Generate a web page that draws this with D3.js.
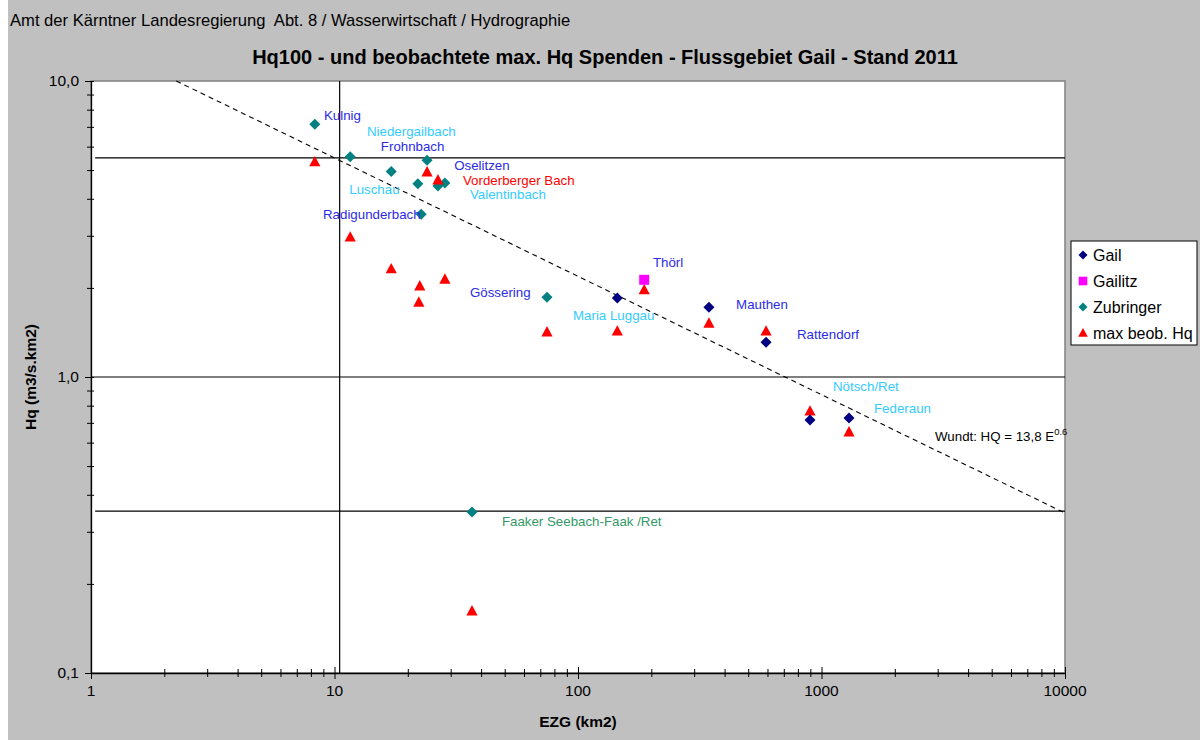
<!DOCTYPE html>
<html><head><meta charset="utf-8">
<script src="https://cdn.jsdelivr.net/npm/d3@7"></script>
<style>
body{margin:0;background:#fff}
svg{display:block}
text{font-family:"Liberation Sans",Arial,Helvetica,sans-serif;white-space:pre}
</style>
</head><body>
<svg id="chart" width="1200" height="740"></svg>
<script>
// ---------------- data ----------------
const headerText = "Amt der Kärntner Landesregierung  Abt. 8 / Wasserwirtschaft / Hydrographie";
const titleText = "Hq100 - und beobachtete max. Hq Spenden - Flussgebiet Gail - Stand 2011";
const xTitle = "EZG (km2)";
const yTitle = "Hq (m3/s.km2)";
const xTickValues = [1, 10, 100, 1000, 10000];
const xTickLabels = ["1", "10", "100", "1000", "10000"];
const yTickValues = [0.1, 1, 10];
const yTickLabels = ["0,1", "1,0", "10,0"];
const seriesNames = ["Gail", "Gailitz", "Zubringer", "max beob. Hq"];

// Gail (main river gauges)
const gailEZG = [145, 345, 592, 897, 1297];
const gailHq  = [1.85, 1.72, 1.31, 0.716, 0.727];
// Gailitz
const gailitzEZG = [187];
const gailitzHq  = [2.13];
// Zubringer (tributaries)
const zubEZG = [8.3, 11.6, 17.1, 24.0, 22.0, 26.6, 28.4, 22.7, 74.6, 36.7];
const zubHq  = [7.15, 5.55, 4.95, 5.4, 4.5, 4.42, 4.52, 3.55, 1.86, 0.35];
// max. beobachtete Hq
const maxEZG = [8.3, 11.6, 17.1, 24.0, 26.6, 22.4, 22.2, 28.4, 74.6, 145, 187, 345, 592, 897, 1297, 36.7];
const maxHq  = [5.33, 2.97, 2.32, 4.93, 4.63, 2.03, 1.79, 2.14, 1.42, 1.43, 1.97, 1.52, 1.43, 0.767, 0.652, 0.162];

// reference lines
const lineTopEZG = [1.04, 10000], lineTopHq = [5.5, 5.5];
const lineBotEZG = [1.04, 10000], lineBotHq = [0.352, 0.352];
const lineVertEZG = [10.5, 10.5], lineVertHq = [0.1, 10];
// Wundt: HQ = 13,8 E^0.6  -> Spende q = 13,8 E^-0.4 (endpoints)
const wundtEZG = [2.24, 10000], wundtHq = [10, 0.347];

// point labels (anchor = left/baseline in data units)
const labelText = ["Kulnig","Niedergailbach","Frohnbach","Oselitzen","Vorderberger Bach","Valentinbach","Luschau","Radigunderbach","Gössering","Maria Luggau","Thörl","Mauthen","Rattendorf","Nötsch/Ret","Federaun","Faaker Seebach-Faak /Ret"];
const labelEZG  = [9.05, 13.6, 15.5, 31.0, 33.7, 36.0, 11.5, 8.97, 36.0, 95.4, 203, 446, 793, 1115, 1643, 48.7];
const labelHq   = [7.36, 6.54, 5.82, 5.02, 4.47, 3.98, 4.14, 3.41, 1.86, 1.56, 2.36, 1.70, 1.34, 0.900, 0.753, 0.315];
const labelKind = ["blue","light","blue","blue","red","light","light","blue","blue","light","blue","blue","blue","light","light","green"];
const wundtLabel = {text: "Wundt: HQ = 13,8 E", sup: "0.6", EZG: 2926, Hq: 0.610};

// ---------------- styles ----------------
const labelColors = {blue: "#2b2be6", light: "#33ccff", red: "#ff0000", green: "#339966"};
const seriesColors = {Gail: "#000080", Gailitz: "#ff00ff", Zubringer: "#008080", max: "#ff0000"};
const FONT_LABEL = 13.3, FONT_TICK = 15.5, FONT_AXIS = 15.5, FONT_TITLE = 20, FONT_HEADER = 16.6, FONT_LEGEND = 16;

// ---------------- layout ----------------
const svg = d3.select("#chart");
const P = {l: 91, r: 1065, t: 81, b: 673};

svg.append("rect").attr("x", 8).attr("y", 0).attr("width", 1192).attr("height", 740).attr("fill", "#c0c0c0");
svg.append("rect").attr("x", P.l).attr("y", P.t).attr("width", P.r - P.l).attr("height", P.b - P.t)
  .attr("fill", "#fff").attr("stroke", "#808080").attr("stroke-width", 1.5);

const x = d3.scaleLog().domain([1, 10000]).range([P.l, P.r]);
const y = d3.scaleLog().domain([0.1, 10]).range([P.b, P.t]);

// header + title
svg.append("text").attr("x", 10).attr("y", 26).attr("font-size", FONT_HEADER).attr("fill", "#000").text(headerText);
svg.append("text").attr("x", 605).attr("y", 64).attr("text-anchor", "middle").attr("font-size", FONT_TITLE)
  .attr("font-weight", "bold").attr("fill", "#000").text(titleText);

// gridline at 1,0
svg.append("line").attr("x1", P.l).attr("x2", P.r).attr("y1", y(1)).attr("y2", y(1))
  .attr("stroke", "#000").attr("stroke-width", 1.2);

// reference lines
const lineGen = d3.line().x(d => x(d[0])).y(d => y(d[1]));
function pairs(a, b) { return a.map((v, i) => [v, b[i]]); }
[[lineTopEZG, lineTopHq], [lineBotEZG, lineBotHq], [lineVertEZG, lineVertHq]].forEach(([a, b]) => {
  svg.append("path").attr("d", lineGen(pairs(a, b))).attr("fill", "none").attr("stroke", "#000").attr("stroke-width", 1.2);
});
svg.append("path").attr("d", lineGen(pairs(wundtEZG, wundtHq))).attr("fill", "none")
  .attr("stroke", "#000").attr("stroke-width", 1.1).attr("stroke-dasharray", "5,4");

// axes
const yMinor = y.ticks();
const yAxis = d3.axisLeft(y).tickValues(yMinor).tickSize(4).tickSizeOuter(0).tickFormat("");
const gy = svg.append("g").attr("transform", `translate(${P.l},0)`).call(yAxis);
gy.selectAll(".tick line").attr("x1", 3).attr("stroke", "#000");
gy.select(".domain").attr("stroke", "#000").attr("stroke-width", 1.3);
gy.selectAll(".tick").filter(d => yTickValues.some(v => Math.abs(v - d) < 1e-9)).select("line").attr("x2", -6);
yTickValues.forEach((v, i) => {
  svg.append("text").attr("x", P.l - 12).attr("y", y(v) + 5).attr("text-anchor", "end")
    .attr("font-size", FONT_TICK).attr("fill", "#000").text(yTickLabels[i]);
});

const xMinor = x.ticks();
const xAxis = d3.axisBottom(x).tickValues(xMinor).tickSize(4).tickSizeOuter(0).tickFormat("");
const gx = svg.append("g").attr("transform", `translate(0,${P.b})`).call(xAxis);
gx.selectAll(".tick line").attr("y1", -4).attr("stroke", "#000");
gx.selectAll(".tick").filter(d => xTickValues.some(v => Math.abs(v - d) < 1e-9)).select("line").attr("y1", -6).attr("y2", 6);
gx.select(".domain").attr("stroke", "#000").attr("stroke-width", 1.3);
xTickValues.forEach((v, i) => {
  svg.append("text").attr("x", x(v)).attr("y", P.b + 23).attr("text-anchor", "middle")
    .attr("font-size", FONT_TICK).attr("fill", "#000").text(xTickLabels[i]);
});

// axis titles
svg.append("text").attr("x", x(100)).attr("y", 727).attr("text-anchor", "middle").attr("font-size", FONT_AXIS)
  .attr("font-weight", "bold").text(xTitle);
svg.append("text").attr("transform", `translate(36,${(P.t + P.b) / 2}) rotate(-90)`).attr("text-anchor", "middle")
  .attr("font-size", FONT_AXIS).attr("font-weight", "bold").text(yTitle);

// markers
const diamond = r => `M0,${-r}L${r},0L0,${r}L${-r},0Z`;
const square = r => `M${-r},${-r}H${r}V${r}H${-r}Z`;
const triangle = r => `M0,${-r * 1.05}L${r},${r * 0.8}L${-r},${r * 0.8}Z`;

function drawPoints(ex, hq, shape, color) {
  svg.append("g").selectAll("path").data(pairs(ex, hq)).join("path")
    .attr("transform", d => `translate(${x(d[0])},${y(d[1])})`)
    .attr("d", shape).attr("fill", color);
}
drawPoints(zubEZG, zubHq, diamond(5.5), seriesColors.Zubringer);
drawPoints(maxEZG, maxHq, triangle(5.6), seriesColors.max);
drawPoints(gailEZG, gailHq, diamond(5.5), seriesColors.Gail);
drawPoints(gailitzEZG, gailitzHq, square(5), seriesColors.Gailitz);

// point labels
labelText.forEach((t, i) => {
  svg.append("text").attr("x", x(labelEZG[i])).attr("y", y(labelHq[i])).attr("font-size", FONT_LABEL)
    .attr("fill", labelColors[labelKind[i]]).text(t);
});
const wl = svg.append("text").attr("x", x(wundtLabel.EZG)).attr("y", y(wundtLabel.Hq))
  .attr("font-size", FONT_LABEL).attr("fill", "#000");
wl.append("tspan").text(wundtLabel.text);
wl.append("tspan").attr("dy", -6).attr("font-size", 9.5).text(wundtLabel.sup);

// legend
const L = {x: 1071, y: 241, w: 126, h: 104};
const lg = svg.append("g");
lg.append("rect").attr("x", L.x).attr("y", L.y).attr("width", L.w).attr("height", L.h)
  .attr("fill", "#fff").attr("stroke", "#000").attr("stroke-width", 1);
const legShapes = [diamond(4.5), square(4.3), diamond(4.5), triangle(4.8)];
const legColors = [seriesColors.Gail, seriesColors.Gailitz, seriesColors.Zubringer, seriesColors.max];
seriesNames.forEach((n, i) => {
  const cy = L.y + 14 + i * 26;
  lg.append("path").attr("transform", `translate(${L.x + 12},${cy})`).attr("d", legShapes[i]).attr("fill", legColors[i]);
  lg.append("text").attr("x", L.x + 22).attr("y", cy + 6).attr("font-size", FONT_LEGEND).attr("fill", "#000").text(n);
});
</script>
</body></html>
